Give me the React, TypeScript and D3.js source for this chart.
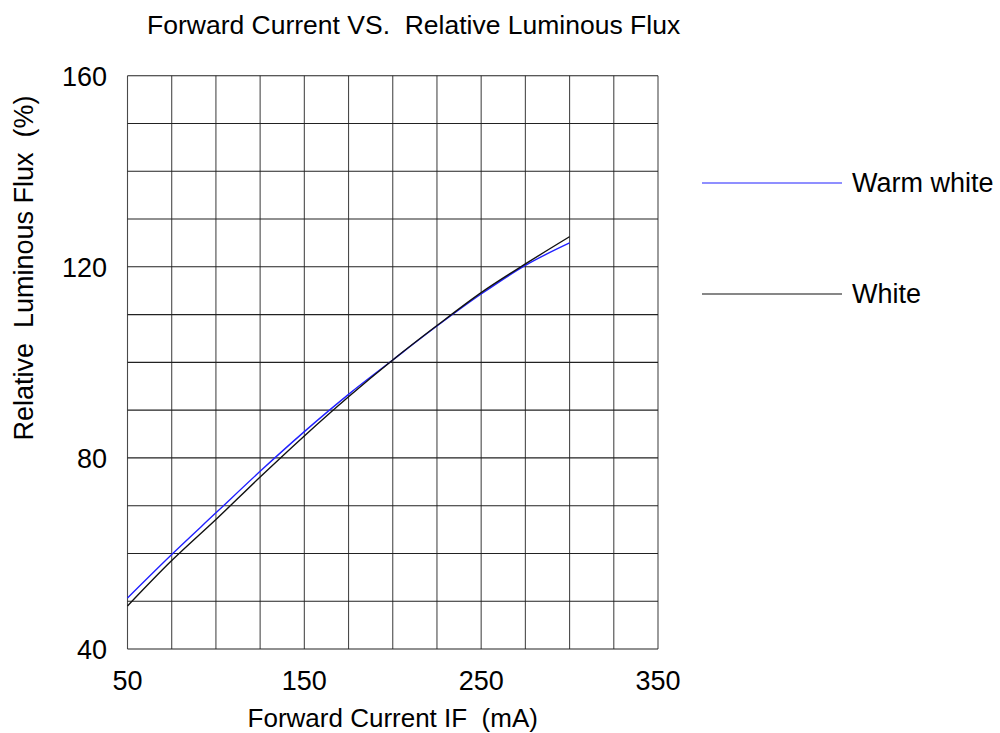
import * as d3 from "d3";

// Forward current (mA) sample points
const currents = [50, 75, 100, 125, 150, 175, 200, 225, 250, 275, 300];
// Relative luminous flux (%)
const warmWhite = [50.7, 59.8, 68.5, 77.2, 85.5, 93.3, 100.5, 107.6, 114.3, 120.3, 125.0];
const white = [49.0, 58.5, 67.1, 76.0, 84.6, 92.8, 100.5, 107.7, 114.6, 120.6, 126.3];

const xTicks = [50, 150, 250, 350];
const yTicks = [40, 80, 120, 160];
const xGrid = d3.range(50, 351, 25);
const yGrid = d3.range(40, 161, 10);

const series = [
  { name: "Warm white", values: warmWhite, color: "#2020ff" },
  { name: "White", values: white, color: "#111" },
];

export default function App() {
  const width = 1000;
  const height = 733;
  const margin = { top: 75.7, right: 342, bottom: 84, left: 127.5 };

  const x = d3.scaleLinear()
    .domain([50, 350])
    .range([margin.left, width - margin.right]);
  const y = d3.scaleLinear()
    .domain([40, 160])
    .range([height - margin.bottom, margin.top]);

  const line = d3.line<number>()
    .x((_, i) => x(currents[i]))
    .y(d => y(d))
    .curve(d3.curveMonotoneX);

  const font = "'Liberation Sans', Arial, sans-serif";
  const pre = { whiteSpace: "pre" as const };

  return (
    <svg width={width} height={height} style={{ position: "absolute", left: 0, top: 0, background: "#fff" }}
      fontFamily={font} fill="#000">
      <rect width={width} height={height} fill="#fff" />
      <text x={147} y={34} fontSize={26.5} style={pre}>Forward Current VS.  Relative Luminous Flux</text>

      {/* grid */}
      {xGrid.map(v => (
        <line key={"gx" + v} x1={x(v)} x2={x(v)} y1={y(40)} y2={y(160)} stroke="#4a4a4a" strokeWidth={1.1} />
      ))}
      {yGrid.map(v => (
        <line key={"gy" + v} x1={x(50)} x2={x(350)} y1={y(v)} y2={y(v)} stroke="#222" strokeWidth={1.1} />
      ))}

      {/* tick labels */}
      {xTicks.map(v => (
        <text key={"xt" + v} x={x(v)} y={690} textAnchor="middle" fontSize={27}>{v}</text>
      ))}
      {yTicks.map(v => (
        <text key={"yt" + v} x={107} y={y(v) + 10} textAnchor="end" fontSize={27}>{v}</text>
      ))}

      <text x={x(200)} y={727} textAnchor="middle" fontSize={26} style={pre}>Forward Current IF  (mA)</text>
      <text transform="translate(33,268) rotate(-90)" textAnchor="middle" fontSize={27} style={pre}>
        Relative  Luminous Flux  (%)
      </text>

      {/* curves */}
      {series.map(s => (
        <path key={s.name} d={line(s.values) ?? ""} fill="none" stroke={s.color} strokeWidth={1.4} />
      ))}

      {/* legend */}
      {series.map((s, i) => (
        <g key={"lg" + s.name} transform={`translate(702,${183 + i * 111})`}>
          <line x1={0} x2={140} y1={0} y2={0} stroke={s.color} strokeWidth={1.2} />
          <text x={150} y={9} fontSize={27}>{s.name}</text>
        </g>
      ))}
    </svg>
  );
}
